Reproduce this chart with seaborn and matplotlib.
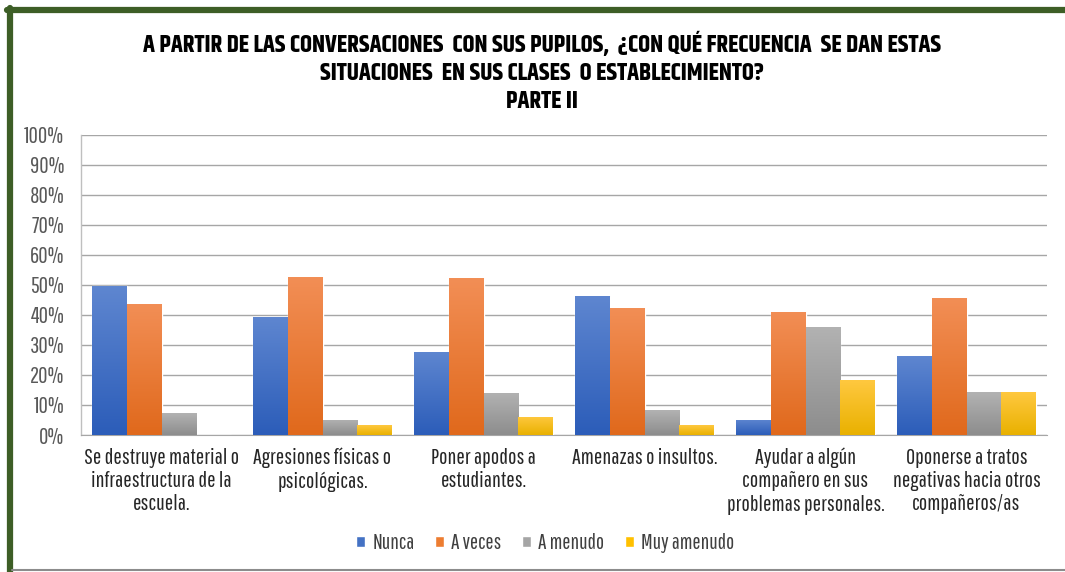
import numpy as np
import pandas as pd
import matplotlib
matplotlib.use("Agg")
import matplotlib.pyplot as plt
import seaborn as sns
from matplotlib.lines import Line2D
from matplotlib.colors import LinearSegmentedColormap

categories = [
    "Se destruye material o\ninfraestructura de la\nescuela.",
    "Agresiones físicas o\npsicológicas.",
    "Poner apodos a\nestudiantes.",
    "Amenazas o insultos.",
    "Ayudar a algún\ncompañero en sus\nproblemas personales.",
    "Oponerse a tratos\nnegativas hacia otros\ncompañeros/as",
]
series_names = ["Nunca", "A veces", "A menudo", "Muy amenudo"]
nunca = [49.5, 39.3, 27.7, 46.4, 5.0, 26.2]
a_veces = [43.5, 52.5, 52.2, 42.2, 41.0, 45.5]
a_menudo = [7.2, 5.0, 14.0, 8.3, 36.0, 14.3]
muy_amenudo = [0.0, 3.2, 6.0, 3.2, 18.2, 14.3]
y_ticks = [0, 10, 20, 30, 40, 50, 60, 70, 80, 90, 100]
title = ("A PARTIR DE LAS CONVERSACIONES  CON SUS PUPILOS,  ¿CON QUÉ FRECUENCIA  SE DAN ESTAS\n"
         "SITUACIONES  EN SUS CLASES  O ESTABLECIMIENTO?\nPARTE II")

colors = ["#4472C4", "#ED7D31", "#A5A5A5", "#FFC000"]
grad_top = ["#5E86D0", "#F28E55", "#B2B2B2", "#FFC83F"]
grad_bot = ["#2C5DB9", "#E0691C", "#8D8D8D", "#E9B100"]

rows = []
for vals, name in zip([nunca, a_veces, a_menudo, muy_amenudo], series_names):
    for c, v in zip(categories, vals):
        rows.append({"cat": c, "serie": name, "val": v})
df = pd.DataFrame(rows)

sns.set_style("white")
BODY = ["Pathway Gothic One", "DejaVu Sans"]
TITLE = ["Khand", "DejaVu Sans"]
plt.rcParams["font.family"] = BODY

fig = plt.figure(figsize=(10.65, 5.72), dpi=100)
ax = fig.add_axes([81 / 1065, 1 - 435 / 572, (1047 - 81) / 1065, (435 - 134.7) / 572])

sns.barplot(data=df, x="cat", y="val", hue="serie", order=categories,
            hue_order=series_names, palette=colors, width=0.86, gap=0,
            saturation=1, ax=ax, legend=True, zorder=3)

# gradient fill on bars
nb = len(categories)
bars = [p for p in ax.patches if p.get_width() > 0][: nb * 4]
for i, p in enumerate(bars):
    s = i // nb
    h = p.get_height()
    if h <= 0:
        continue
    x0 = p.get_x()
    w = p.get_width()
    cmap = LinearSegmentedColormap.from_list("g", [grad_bot[s], grad_top[s]])
    grad = np.linspace(0, 1, 64).reshape(-1, 1)
    im = ax.imshow(grad, extent=[x0, x0 + w, 0, h], origin="lower", cmap=cmap,
                   aspect="auto", zorder=3.5, interpolation="bilinear")
    im.set_clip_path(p)

ax.set_xlim(-0.5, nb - 0.5)
ax.set_ylim(0, 100)
ax.set_yticks(y_ticks)
ax.set_yticklabels([f"{t}%" for t in y_ticks], fontsize=16.5, color="#595959")
ax.set_xticks(range(nb))
ax.set_xticklabels(categories, fontsize=16, color="#262626", linespacing=1.2)
ax.tick_params(axis="x", length=0, pad=9)
ax.tick_params(axis="y", length=0, pad=12)
ax.set_xlabel("")
ax.set_ylabel("")
ax.yaxis.grid(True, color="#A6A6A6", linewidth=1.0, zorder=0)
ax.set_axisbelow(True)
for side in ["top", "right"]:
    ax.spines[side].set_visible(False)
ax.spines["left"].set_color("#BFBFBF")
ax.spines["bottom"].set_color("#A6A6A6")
ax.spines["left"].set_linewidth(1.0)

fig.text(542 / 1065, 1 - 71.5 / 572, title, ha="center", va="center", fontsize=17.6,
         fontweight="bold", color="black", linespacing=1.26, family=TITLE)

handles, labels = ax.get_legend_handles_labels()
ax.legend_.remove()
fig.legend(handles, labels, loc="center", bbox_to_anchor=(545 / 1065, 1 - 543 / 572),
           ncol=4, frameon=False, fontsize=15.5, handlelength=0.42, handleheight=0.42,
           handletextpad=0.33, columnspacing=0.95, labelcolor="#404040")

# frame lines
fig.add_artist(Line2D([7 / 1065, 1], [1 - 10 / 572, 1 - 10 / 572], color="#3D5E26", linewidth=4.5,
                      transform=fig.transFigure))
fig.add_artist(Line2D([9.5 / 1065, 9.5 / 1065], [0, 1 - 8 / 572], color="#3D5E26", linewidth=4.5,
                      transform=fig.transFigure))
fig.add_artist(Line2D([12 / 1065, 1], [1 - 569.5 / 572, 1 - 569.5 / 572], color="#8C8C8C", linewidth=1.5,
                      transform=fig.transFigure))

fig.savefig("out.png", dpi=100)
